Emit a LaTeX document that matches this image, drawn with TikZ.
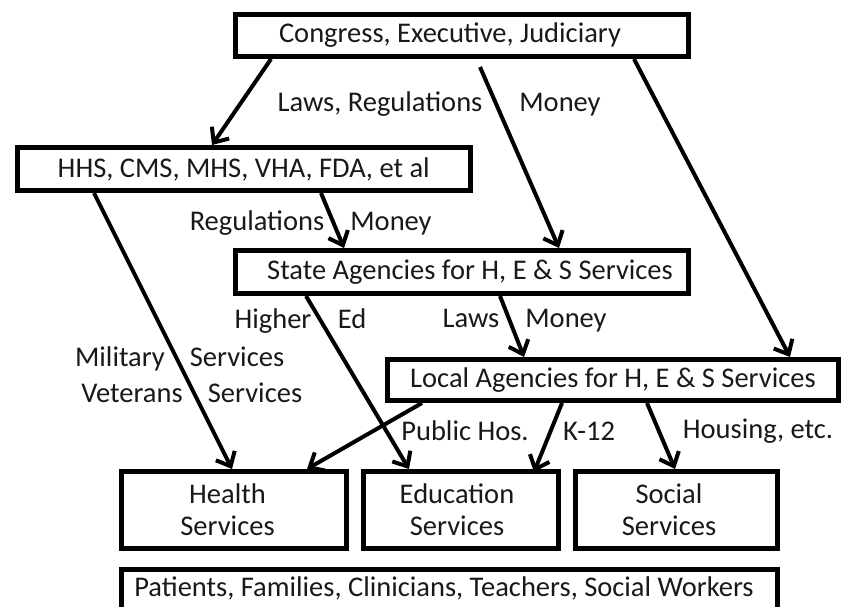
\documentclass[tikz,border=0pt]{standalone}
\usepackage{fontspec}
\setmainfont{Carlito}
\usetikzlibrary{arrows.meta,calc,shadows}
\begin{document}
\begin{tikzpicture}[x=1pt,y=-1pt,
  every node/.style={font=\fontsize{28.5}{32}\selectfont, text=black!90},
  box/.style={draw=black, fill=white, line width=5pt, rectangle, inner sep=0pt, align=center,
    general shadow={fill=black!22, shadow xshift=1.5pt, shadow yshift=-1.5pt}},
  lbl/.style={anchor=base, inner sep=0pt},
  arr/.style={line width=4pt, -{Straight Barb[length=12pt,width=21pt,line width=4pt]}}]
\useasboundingbox[fill=white] (0,0) rectangle (843,606);
% boxes
\node[box, minimum width=453pt, minimum height=42pt] (top) at (462,35.5) {\hspace*{-24pt}Congress, Executive, Judiciary};
\node[box, minimum width=453.5pt, minimum height=43pt] (hhs) at (243.75,169) {HHS, CMS, MHS, VHA, FDA, et al};
\node[box, minimum width=453pt, minimum height=43pt] (state) at (462,272) {\hspace*{16pt}State Agencies for H, E \& S Services};
\node[box, minimum width=451pt, minimum height=41pt] (local) at (613,380) {Local Agencies for H, E \& S Services};
\node[box, minimum width=225pt, minimum height=77pt] (health) at (234,510) {\hspace*{-13pt}Health\\\hspace*{-13pt}Services};
\node[box, minimum width=195pt, minimum height=77pt] (edu) at (461,510) {\hspace*{-8pt}Education\\\hspace*{-8pt}Services};
\node[box, minimum width=202pt, minimum height=77pt] (social) at (676.5,510) {\hspace*{-15pt}Social\\\hspace*{-15pt}Services};
\node[box, minimum width=656pt, minimum height=50pt, anchor=north] (people) at (449.5,566.5) {};
\node[lbl] (peopletext) at (444,596) {Patients, Families, Clinicians, Teachers, Social Workers};
% arrows
\draw[arr] ($(top.south west)+(38,0)$) -- ($(hhs.north west)+(197.5,0)$);
\draw[arr] ($(top.south west)+(247,8)$) -- ($(state.north west)+(326,0)$);
\draw[arr] ($(top.south west)+(401,0)$) -- ($(local.north west)+(405,0)$);
\draw[arr] ($(hhs.south west)+(306.5,0)$) -- ($(state.north west)+(111,0)$);
\draw[arr] ($(hhs.south west)+(79.5,0)$) -- ($(health.north west)+(113,0)$);
\draw[arr] ($(state.south west)+(73,0)$) -- ($(edu.north west)+(48,0)$);
\draw[arr] ($(state.south west)+(267,0)$) -- ($(local.north west)+(139,0)$);
\draw[arr] ($(local.south west)+(37,0)$) -- ($(health.north west)+(188,0)$);
\draw[arr] ($(local.south west)+(177,0)$) -- ($(edu.north west)+(173,3)$);
\draw[arr] ($(local.south west)+(262,0)$) -- ($(social.north west)+(102,0)$);
% labels
\node[lbl] (l1) at (380,111) {Laws, Regulations};
\node[lbl] (l2) at (560,111) {Money};
\node[lbl] (l3) at (257,230) {Regulations};
\node[lbl] (l4) at (391,230) {Money};
\node[lbl] (l5) at (273,328) {Higher};
\node[lbl] (l6) at (352,328) {Ed};
\node[lbl] (l7) at (471,327) {Laws};
\node[lbl] (l8) at (566,327) {Money};
\node[lbl] (l9) at (120,366) {Military};
\node[lbl] (l10) at (237,366) {Services};
\node[lbl] (l11) at (132,402) {Veterans};
\node[lbl] (l12) at (255,402) {Services};
\node[lbl] (l13) at (465,440) {Public Hos.};
\node[lbl] (l14) at (589,440) {K-12};
\node[lbl] (l15) at (758,438) {Housing, etc.};
\end{tikzpicture}
\end{document}
